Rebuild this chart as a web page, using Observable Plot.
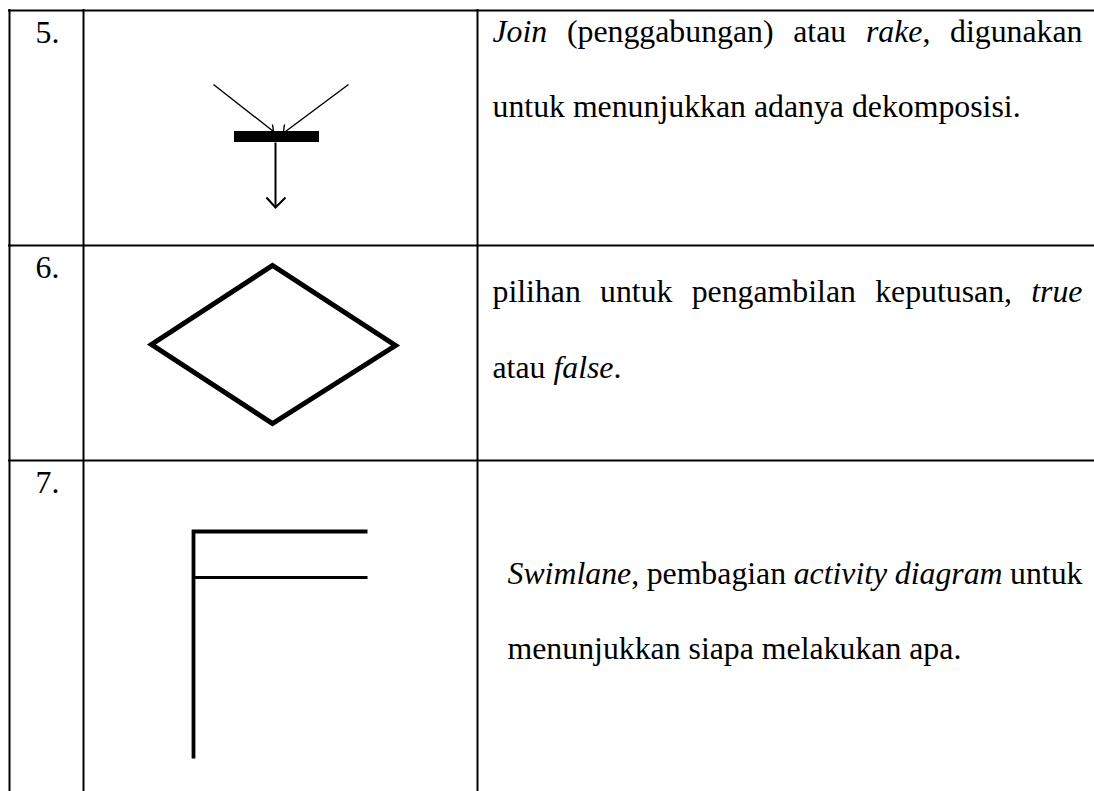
<!DOCTYPE html>
<html><head><meta charset="utf-8">
<script src="https://cdn.jsdelivr.net/npm/d3@7"></script>
<script src="https://cdn.jsdelivr.net/npm/@observablehq/plot@0.6"></script>
<style>html,body{margin:0;padding:0;background:#fff;overflow:hidden}</style>
</head><body><div id="chart"></div>
<script>
// ---- content ----
const itemNumbers = ["5.", "6.", "7."];
const symbolKinds = ["join", "decision", "swimlane"];
// each description: lines -> segments (i = italic)
const descriptionLines = [
  [[{t:"Join", i:true},{t:" (penggabungan) atau "},{t:"rake", i:true},{t:", digunakan"}],
   [{t:"untuk menunjukkan adanya dekomposisi."}]],
  [[{t:"pilihan untuk pengambilan keputusan, "},{t:"true", i:true}],
   [{t:"atau "},{t:"false", i:true},{t:"."}]],
  [[{t:"Swimlane", i:true},{t:", pembagian "},{t:"activity diagram", i:true},{t:" untuk"}],
   [{t:"menunjukkan siapa melakukan apa."}]]
];
// symbol shapes, in px relative to the symbol cell's top-left corner
const joinStrokes = [
  {id:"inL", w:1.4, pts:[[130,74],[190,121]]},
  {id:"inR", w:1.4, pts:[[265,74],[202,121]]},
  {id:"tipL", w:1.4, pts:[[189,114],[190,121]]},
  {id:"tipR", w:1.4, pts:[[201,114],[200,121]]},
  {id:"stem", w:2, pts:[[192,132],[192,197]]},
  {id:"head", w:2, pts:[[183,187],[192,197],[202,187]]}
];
const joinBar = {x1:151, x2:236, y1:121, y2:132};
const decisionOutline = [[68,99],[189,20],[312,100],[189,178],[68,99],[189,20]];
const swimlaneStrokes = [
  {id:"frame", w:3.8, pts:[[284,71],[110,71],[110,298]]},
  {id:"lane", w:3, pts:[[110,117],[284,117]]}
];

// ---- layout ----
const W = 1094, H = 791;
const colEdges = [9, 83, 477, 1100];
const rowEdges = [10, 245, 460, 800];
const fontSize = 31.8;
const numberX = 35, numberDrop = 32;
const descX = [492, 492, 507];
const descBaselines = [[41, 116], [301, 377], [583, 658]];
const textRight = 1082;

// ---- build data ----
const numberData = itemNumbers.map((n, r) => ({n, x: numberX, y: rowEdges[r] + numberDrop}));
const descData = [];
descriptionLines.forEach((lines, r) => lines.forEach((segs, k) => {
  descData.push({segs, text: segs.map(s => s.t).join(""), x: descX[r], y: descBaselines[r][k],
                 justify: k < lines.length - 1});
}));
const strokePts = [];
const rects = [];
symbolKinds.forEach((kind, r) => {
  const ox = colEdges[1], oy = rowEdges[r];
  if (kind === "join") {
    joinStrokes.forEach(s => s.pts.forEach(([x, y]) => strokePts.push({id: kind + s.id, w: s.w, x: ox + x, y: oy + y})));
    rects.push({x1: ox + joinBar.x1, x2: ox + joinBar.x2, y1: oy + joinBar.y1, y2: oy + joinBar.y2});
  } else if (kind === "decision") {
    decisionOutline.forEach(([x, y]) => strokePts.push({id: kind, w: 5, x: ox + x, y: oy + y}));
  } else {
    swimlaneStrokes.forEach(s => s.pts.forEach(([x, y]) => strokePts.push({id: kind + s.id, w: s.w, x: ox + x, y: oy + y})));
  }
});
const widths = [...new Set(strokePts.map(d => d.w))];

const svg = Plot.plot({
  width: W, height: H, margin: 0,
  x: {domain: [0, W], axis: null},
  y: {domain: [0, H], reverse: true, axis: null},
  style: {background: "#fff", fontFamily: "'Liberation Serif', 'Times New Roman', serif"},
  marks: [
    Plot.ruleX(colEdges, {x: d => d, y1: rowEdges[0], y2: rowEdges[rowEdges.length - 1], stroke: "#000", strokeWidth: 2, strokeLinecap: "square"}),
    Plot.ruleY(rowEdges, {y: d => d, x1: colEdges[0], x2: colEdges[colEdges.length - 1], stroke: "#000", strokeWidth: 2, strokeLinecap: "square"}),
    Plot.rect(rects, {x1: "x1", x2: "x2", y1: "y1", y2: "y2", fill: "#000"}),
    ...widths.map(w => Plot.line(strokePts.filter(d => d.w === w), {x: "x", y: "y", z: "id", stroke: "#000", strokeWidth: w, strokeLinejoin: "miter", strokeLinecap: "butt", strokeMiterlimit: 10})),
    Plot.text(numberData, {x: "x", y: "y", text: "n", textAnchor: "start", lineAnchor: "bottom", fontSize, fill: "#000"}),
    Plot.text(descData, {x: "x", y: "y", text: "text", textAnchor: "start", lineAnchor: "bottom", fontSize, fill: "#000"})
  ]
});
document.getElementById("chart").append(svg);

// rich text (italic runs) and justification of non-final lines
const xs = svg.scale("x");
const allTexts = Array.from(svg.querySelectorAll("text"));
descData.forEach(d => {
  const el = allTexts.find(t => t.textContent === d.text && !t.dataset.done);
  if (!el) return;
  el.dataset.done = "1";
  el.style.whiteSpace = "pre";
  el.textContent = "";
  d.segs.forEach(s => {
    const ts = document.createElementNS("http://www.w3.org/2000/svg", "tspan");
    ts.textContent = s.t;
    if (s.i) ts.setAttribute("font-style", "italic");
    el.appendChild(ts);
  });
  if (d.justify) {
    const natural = el.getComputedTextLength();
    const spaces = (d.text.match(/ /g) || []).length;
    const target = xs.apply(textRight) - xs.apply(d.x);
    if (spaces > 0) el.setAttribute("word-spacing", (target - natural) / spaces);
  }
});
</script>
</body></html>
